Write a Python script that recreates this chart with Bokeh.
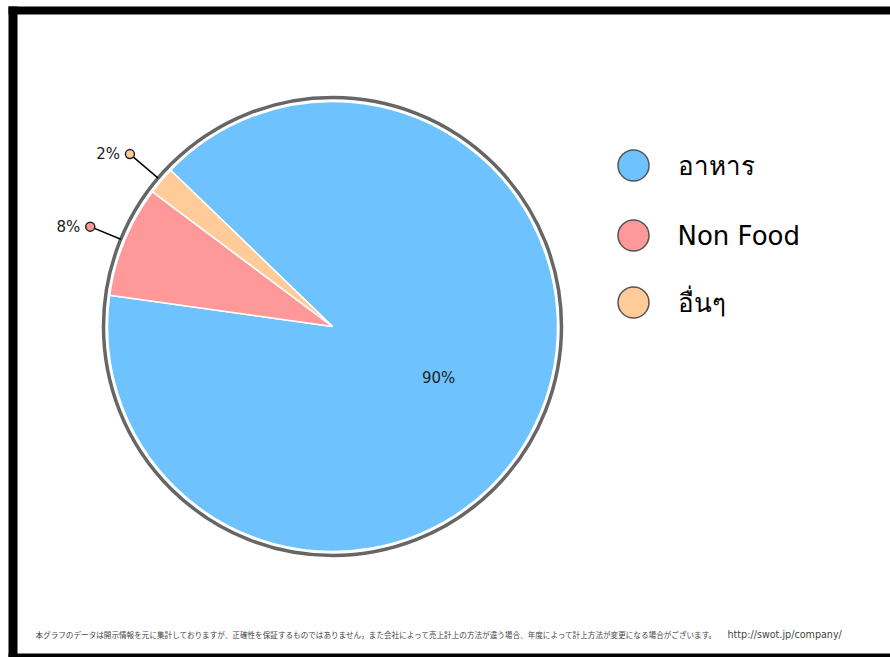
import math
from bokeh.plotting import figure
from bokeh.models import Range1d, ColumnDataSource
from bokeh.core.properties import value
from bokeh.embed import file_html
from bokeh.resources import INLINE

# ---- data ----
categories = ["อาหาร", "Non Food", "อื่นๆ"]
values = [90, 8, 2]
colors = ["#6EC3FF", "#FF9999", "#FFCC99"]
footer_note = ("本グラフのデータは開示情報を元に集計しておりますが、正確性を保証するものではありません，"
               "また会社によって売上計上の方法が違う場合、年度によって計上方法が変更になる場合がございます。")
footer_url = "http://swot.jp/company/"

W, H = 890, 657
def Y(s):
    return H - s

p = figure(width=W, height=H, x_range=Range1d(0, W), y_range=Range1d(0, H),
           toolbar_location=None, output_backend="svg", min_border=0,
           x_axis_type=None, y_axis_type=None)
p.grid.visible = False
p.outline_line_color = None
p.background_fill_color = "white"
p.border_fill_color = "white"

# frame
p.quad(left=[8, 8, 8], right=[17, W, W], bottom=[Y(657), Y(14), Y(657)],
       top=[Y(6), Y(6), Y(653)], fill_color="black", line_color=None)

# pie
cx, cy, R = 332, Y(326), 225
start = math.radians(136)
total = sum(values)
starts, ends, mids = [], [], []
a = start
for v in values:
    span = 2 * math.pi * v / total
    starts.append(a)
    ends.append(a - span)
    mids.append(a - span / 2)
    a -= span

p.circle(x=[cx], y=[cy], radius=R + 4, radius_units="screen", fill_color="white",
         line_color="#666666", line_width=3.5)
src = ColumnDataSource(dict(x=[cx] * 3, y=[cy] * 3, s=starts, e=ends, c=colors))
p.wedge(x="x", y="y", radius=R, radius_units="screen", start_angle="s", end_angle="e",
        direction="clock", fill_color="c", line_color="white", line_width=1.5, source=src)

labels = [f"{v}%" for v in values]
# inside label for big slice
p.text(x=[cx + 118 * math.cos(mids[0])], y=[cy + 118 * math.sin(mids[0])], text=[labels[0]],
       text_font=value("DejaVu Sans"), text_font_size="15px", text_color="#222222",
       text_align="center", text_baseline="middle")
# outside labels with leaders
for i, rm in ((1, 262), (2, 266)):
    m = mids[i]
    x0, y0 = cx + (R + 4) * math.cos(m), cy + (R + 4) * math.sin(m)
    x1, y1 = cx + rm * math.cos(m), cy + rm * math.sin(m)
    p.line(x=[x0, x1], y=[y0, y1], line_color="black", line_width=1.5)
    p.scatter(x=[x1], y=[y1], size=9, fill_color=colors[i], line_color="#222222", line_width=1.5)
    p.text(x=[x1 - 10], y=[y1], text=[labels[i]], text_font=value("DejaVu Sans"),
           text_font_size="15px", text_color="#222222", text_align="right", text_baseline="middle")

# legend
ly = [Y(165), Y(235), Y(302)]
p.scatter(x=[633] * 3, y=ly, size=31, fill_color=colors, line_color="#555555", line_width=1.5)
p.text(x=[677] * 3, y=ly, text=categories, text_font=value("DejaVu Sans"),
       text_font_size="26px", text_color="black", text_align="left", text_baseline="middle")

# footer
p.text(x=[35], y=[Y(634)], text=[footer_note], text_font=value("Noto Sans CJK JP"),
       text_font_size="7.6px", text_color="#444444", text_align="left", text_baseline="middle")
p.text(x=[727], y=[Y(634)], text=[footer_url], text_font=value("DejaVu Sans"),
       text_font_size="9.6px", text_color="#444444", text_align="left", text_baseline="middle")

open("out.html", "w").write(file_html(p, INLINE))
